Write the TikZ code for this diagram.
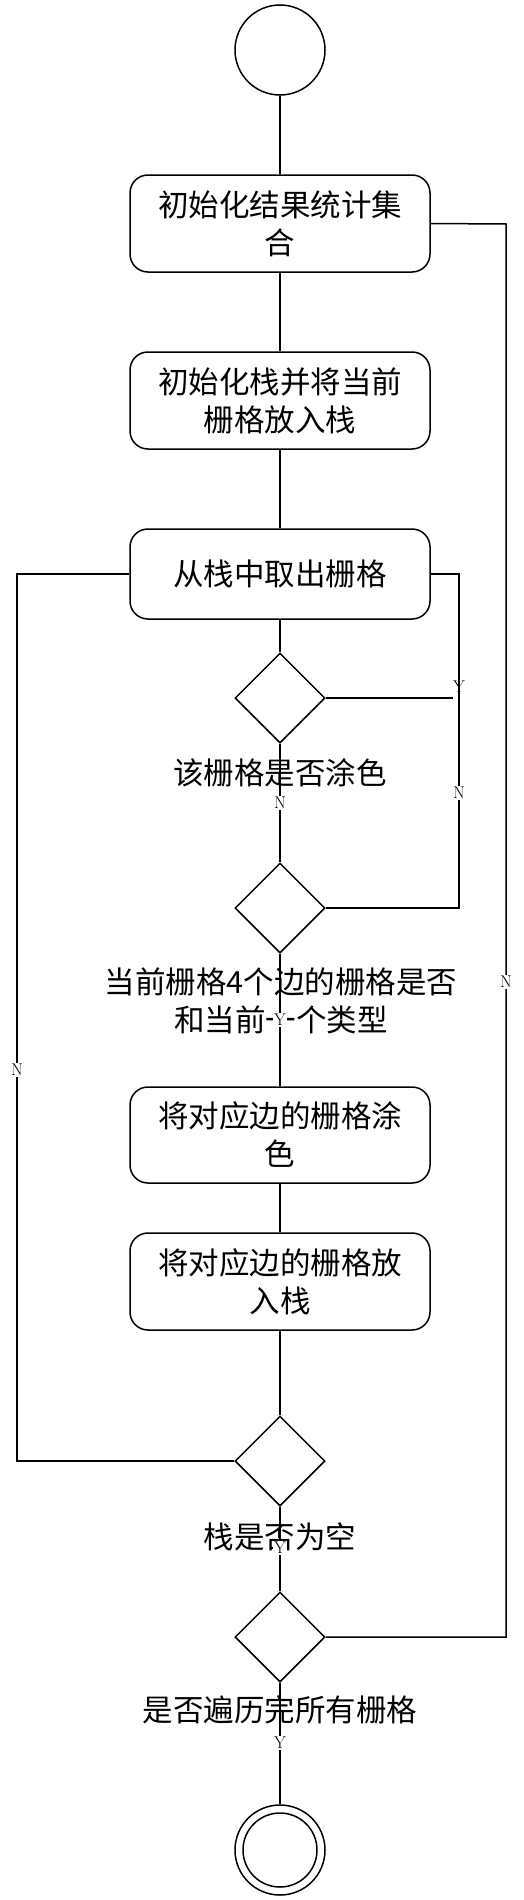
\documentclass[tikz,border=0pt]{standalone}
\usepackage{fontspec}
\newfontfamily\cjk{Noto Sans CJK SC}
\usetikzlibrary{shapes.geometric}
\begin{document}
\begin{tikzpicture}[x=1pt,y=-1pt,
  every path/.style={line width=1.5pt},
  conn/.style={draw,line width=1.5pt},
  actbox/.style={draw,line width=1.5pt,rounded corners=18pt,minimum width=300pt,inner sep=0pt,align=center,font=\cjk\fontsize{30.5}{38}\selectfont},
  decide/.style={draw,line width=1.5pt,diamond,minimum width=90pt,minimum height=90pt,inner sep=0pt},
  dlabel/.style={align=center,inner sep=0pt,font=\cjk\fontsize{30.5}{38}\selectfont},
  yn/.style={fill=white,inner sep=1pt,font=\fontsize{17}{17}\selectfont},
  ynplain/.style={inner sep=1pt,font=\fontsize{17}{17}\selectfont},
  terminal/.style={draw,line width=1.5pt,circle,minimum size=90pt,inner sep=0pt}]
\useasboundingbox (0,0) rectangle (523,1900);

\node[terminal] (start) at (280,50) {};
\node[actbox,minimum height=97pt] (b1) at (280,223.5) {初始化结果统计集\\合};
\node[actbox,minimum height=97pt] (b2) at (280,400.5) {初始化栈并将当前\\栅格放入栈};
\node[actbox,minimum height=90pt] (b3) at (280,574) {从栈中取出栅格};
\node[decide] (d1) at (280,698) {};
\node[decide] (d2) at (280,908) {};
\node[actbox,minimum height=96pt] (b4) at (280,1135) {将对应边的栅格涂\\色};
\node[actbox,minimum height=97pt] (b5) at (280,1281.5) {将对应边的栅格放\\入栈};
\node[decide] (d3) at (280,1461) {};
\node[decide] (d4) at (280,1637) {};
\node[terminal] (end) at (280,1850) {};
\draw (end.center) circle[radius=37pt];

\coordinate (y1end) at (453,698);
\coordinate (r3) at (459,574);
\coordinate (l3) at (17,574);
\coordinate (r1) at (506,224);

\draw[conn] (start) -- (b1);
\draw[conn] (b1) -- (b2);
\draw[conn] (b2) -- (b3);
\draw[conn] (b3) -- (d1);
\draw[conn] (d1.east) -- (y1end);
\draw[conn] (d2.east) -| (r3) -- (b3.east);
\draw[conn] (d1.south) -- (d2.north);
\draw[conn] (d2.south) -- (b4.north);
\draw[conn] (b4) -- (b5);
\draw[conn] (b5.south) -- (d3.north);
\draw[conn] (d3.west) -| (l3) -- (b3.west);
\draw[conn] (d3.south) -- (d4.north);
\draw[conn] (d4.east) -| (r1) -- (b1.east);
\draw[conn] (d4.south) -- (end.north);

\node[dlabel] (t1) at (280,773) {该栅格是否涂色};
\node[dlabel] (t2) at (281,1001) {当前栅格4个边的栅格是否\\和当前一个类型};
\node[dlabel] (t3) at (280,1537) {栈是否为空};
\node[dlabel] (t4) at (280,1710) {是否遍历完所有栅格};

\node[ynplain] (lY1) at (459,687) {Y};
\node[yn] (lN1) at (280,803) {N};
\node[yn] (lN2) at (459,793) {N};
\node[yn] (lY2) at (280,1020) {Y};
\node[yn] (lN3) at (506,982) {N};
\node[yn] (lN4) at (17,1070) {N};
\node[yn] (lY3) at (280,1548) {Y};
\node[yn] (lY4) at (280,1743) {Y};
\end{tikzpicture}
\end{document}
